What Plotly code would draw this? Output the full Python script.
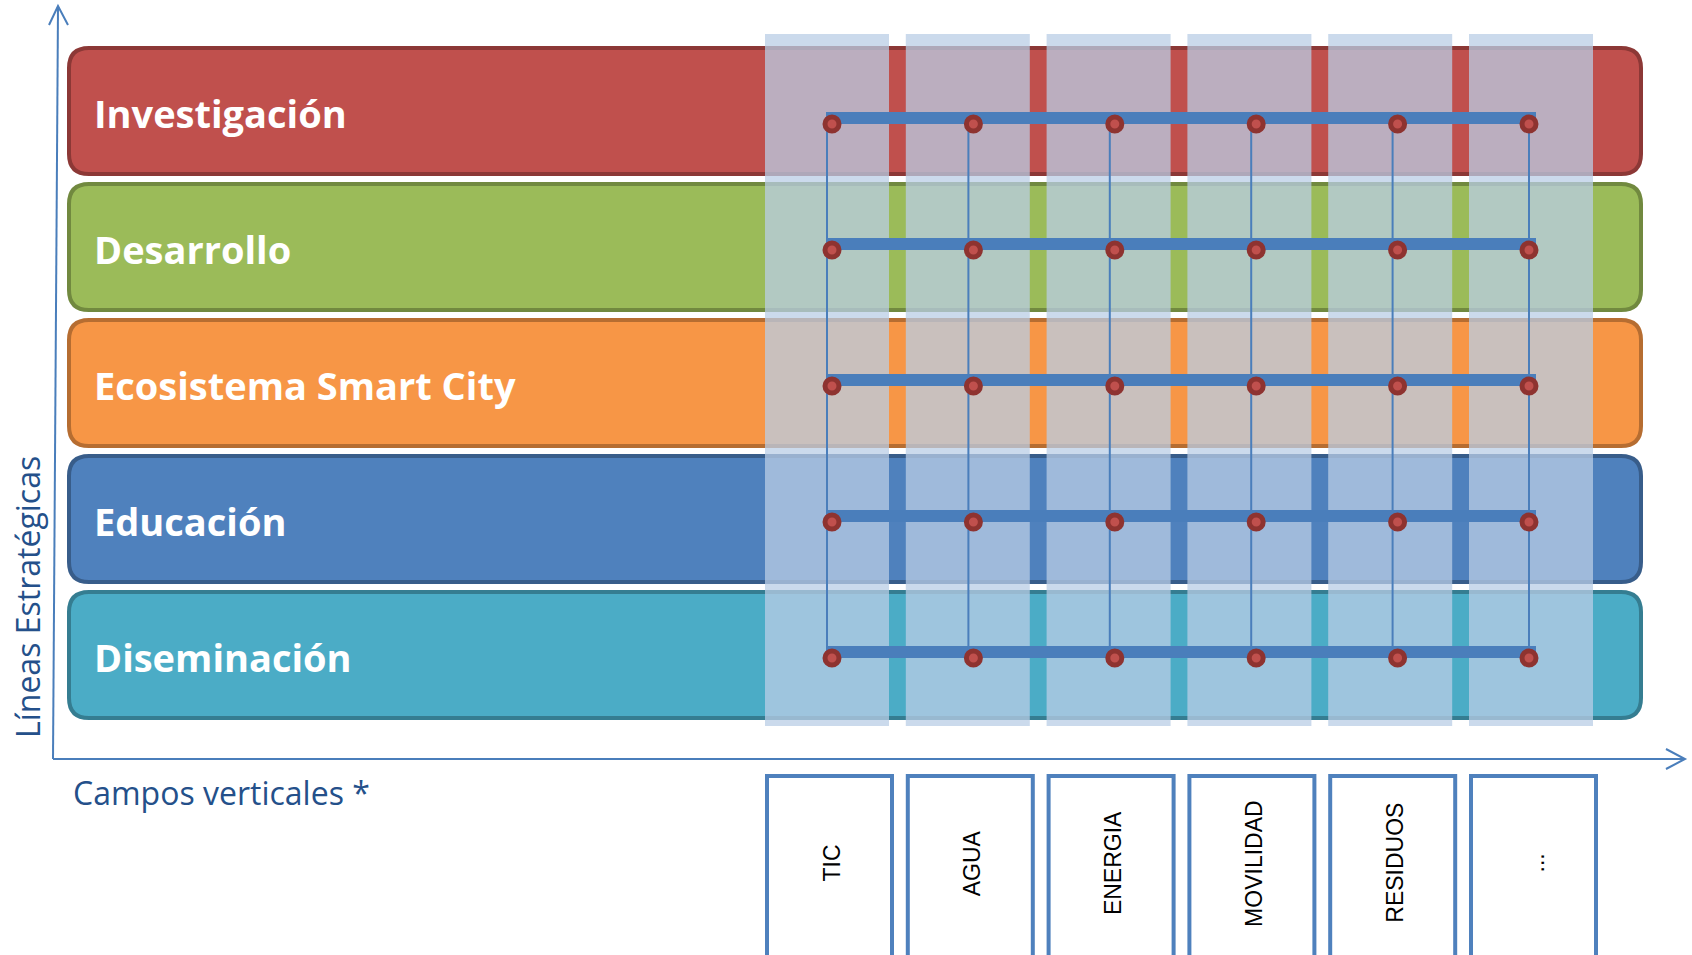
import plotly.graph_objects as go

# ---------------- data ----------------
lineas = ["Investigación", "Desarrollo", "Ecosistema Smart City", "Educación", "Diseminación"]
linea_fill = ["#C0504D", "#9BBB59", "#F79646", "#4F81BD", "#4BACC6"]
linea_border = ["#8C3836", "#71893F", "#B66D31", "#385D8A", "#357D91"]
campos = ["TIC", "AGUA", "ENERGIA", "MOVILIDAD", "RESIDUOS", "..."]
y_title = "Líneas Estratégicas"
x_title = "Campos verticales *"

# ---------------- layout constants (pixel space) ----------------
W, H = 1692, 955
BAND_X0, BAND_X1 = 67, 1643
BAND_TOP0, BAND_PITCH, BAND_H = 46, 136, 130
RADIUS = 20
COL_X0, COL_PITCH, COL_W = 765, 140.8, 124
COL_Y0, COL_Y1 = 34, 726
BOX_X0, BOX_W, BOX_Y0, BOX_Y1 = 767, 125, 776, 975
AXIS_BLUE = "#4A7EBB"
TITLE_BLUE = "#24508A"

nrow, ncol = len(lineas), len(campos)
band_top = [BAND_TOP0 + BAND_PITCH * j for j in range(nrow)]
col_center = [COL_X0 + COL_PITCH * i + COL_W / 2 for i in range(ncol)]
vline_x = [827 + 141.4 * i for i in range(ncol - 1)] + [1529]
dot_x = [x + (5 if i < ncol - 1 else 0) for i, x in enumerate(vline_x)]
dot_y = [t + 68 + (10 if j == 0 else 0) for j, t in enumerate(band_top)]


def rounded_rect(x0, y0, x1, y1, r):
    return (f"M {x0+r},{y0} L {x1-r},{y0} Q {x1},{y0} {x1},{y0+r} "
            f"L {x1},{y1-r} Q {x1},{y1} {x1-r},{y1} L {x0+r},{y1} "
            f"Q {x0},{y1} {x0},{y1-r} L {x0},{y0+r} Q {x0},{y0} {x0+r},{y0} Z")


shapes = []
annotations = []

# bands
for j, name in enumerate(lineas):
    t = band_top[j]
    shapes.append(dict(type="path", layer="below",
                       path=rounded_rect(BAND_X0 + 2, t + 2, BAND_X1 - 2, t + BAND_H - 2, RADIUS),
                       fillcolor=linea_fill[j], line=dict(color=linea_border[j], width=4)))
    annotations.append(dict(x=92, y=t + BAND_H / 2 + 2, xref="x", yref="y", text=f"<b>{name}</b>",
                            showarrow=False, xanchor="left", yanchor="middle",
                            font=dict(family="Open Sans", size=38, color="white")))

# vertical column overlays
for i in range(ncol):
    x0 = COL_X0 + COL_PITCH * i
    shapes.append(dict(type="rect", layer="below", x0=x0, x1=x0 + COL_W, y0=COL_Y0, y1=COL_Y1,
                       fillcolor="rgba(185,205,229,0.75)", line=dict(width=0)))

# bottom boxes
for i, c in enumerate(campos):
    x0 = BOX_X0 + COL_PITCH * i
    shapes.append(dict(type="rect", layer="below", x0=x0, x1=x0 + BOX_W, y0=BOX_Y0, y1=BOX_Y1,
                       fillcolor="white", line=dict(color="#4F81BD", width=4)))
    annotations.append(dict(x=x0 + BOX_W / 2 + 2, y=863, xref="x", yref="y", text=c,
                            showarrow=False, textangle=-90, xanchor="center", yanchor="middle",
                            font=dict(family="Liberation Sans", size=23, color="black")))

# axes arrows
shapes.append(dict(type="line", layer="below", x0=58, y0=7, x1=53, y1=759,
                   line=dict(color=AXIS_BLUE, width=2)))
shapes.append(dict(type="path", layer="below", path="M 49,25 L 58,6 L 68,25",
                   line=dict(color=AXIS_BLUE, width=2)))
shapes.append(dict(type="line", layer="below", x0=53, y0=759, x1=1684, y1=759,
                   line=dict(color=AXIS_BLUE, width=2)))
shapes.append(dict(type="path", layer="below", path="M 1666,749 L 1685,759 L 1666,769",
                   line=dict(color=AXIS_BLUE, width=2)))

annotations.append(dict(x=27, y=597, xref="x", yref="y", text=y_title, showarrow=False,
                        textangle=-90, xanchor="center", yanchor="middle",
                        font=dict(family="Open Sans", size=32, color=TITLE_BLUE)))
annotations.append(dict(x=71, y=792, xref="x", yref="y", text=x_title, showarrow=False,
                        xanchor="left", yanchor="middle",
                        font=dict(family="Open Sans", size=32, color=TITLE_BLUE)))

fig = go.Figure()

# horizontal grid lines (one per linea)
for j in range(nrow):
    fig.add_trace(go.Scatter(x=[vline_x[0] - 1, dot_x[-1] + 7], y=[dot_y[j] - 6] * 2,
                             mode="lines", line=dict(color=AXIS_BLUE, width=12),
                             hoverinfo="skip", showlegend=False))
# vertical grid lines (one per campo)
for i in range(ncol):
    fig.add_trace(go.Scatter(x=[vline_x[i]] * 2, y=[dot_y[0] - 6, dot_y[-1]],
                             mode="lines", line=dict(color=AXIS_BLUE, width=2),
                             hoverinfo="skip", showlegend=False))
# intersection dots
fig.add_trace(go.Scatter(x=[dot_x[i] for j in range(nrow) for i in range(ncol)],
                         y=[dot_y[j] for j in range(nrow) for i in range(ncol)],
                         mode="markers",
                         marker=dict(size=14, color="#C0504D", line=dict(color="#8E3330", width=5)),
                         hoverinfo="skip", showlegend=False))

fig.update_layout(width=W, height=H, margin=dict(l=0, r=0, t=0, b=0),
                  paper_bgcolor="white", plot_bgcolor="white",
                  shapes=shapes, annotations=annotations,
                  xaxis=dict(range=[0, W], visible=False, fixedrange=True),
                  yaxis=dict(range=[H, 0], visible=False, fixedrange=True))

fig.write_html("out.html", config={"displayModeBar": False},
               post_script="document.body.style.margin='0';document.body.style.overflow='hidden';")
